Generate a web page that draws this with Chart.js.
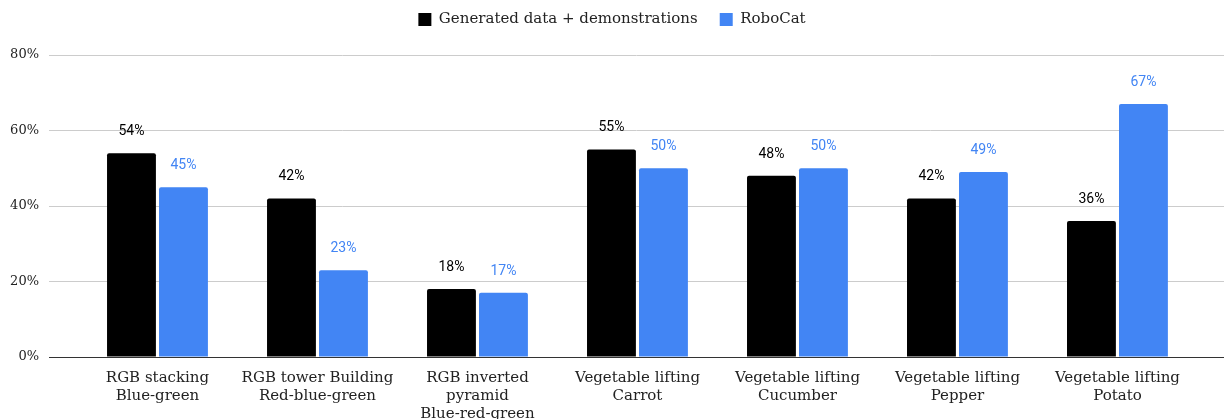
<!DOCTYPE html>
<html>
<head>
<meta charset="utf-8">
<script src="https://cdn.jsdelivr.net/npm/chart.js@4.4.0/dist/chart.umd.min.js"></script>
<style>
  html, body { margin: 0; padding: 0; background: #fff; }
  #wrap { width: 1224px; height: 419px; position: relative; }
</style>
</head>
<body>
<div id="wrap"><canvas id="c"></canvas></div>
<script>
const categories = [
  ["RGB stacking", "Blue-green"],
  ["RGB tower Building", "Red-blue-green"],
  ["RGB inverted", "pyramid", "Blue-red-green"],
  ["Vegetable lifting", "Carrot"],
  ["Vegetable lifting", "Cucumber"],
  ["Vegetable lifting", "Pepper"],
  ["Vegetable lifting", "Potato"]
];
const seriesNames = ["Generated data + demonstrations", "RoboCat"];
const generatedValues = [54, 42, 18, 55, 48, 42, 36];
const robocatValues = [45, 23, 17, 50, 50, 49, 67];
const yTicks = [0, 20, 40, 60, 80];

const SERIF = "'DejaVu Serif', Georgia, serif";
const SANS = "Roboto, Arial, sans-serif";
const BLUE = "#4285F4";

const toPoints = arr => arr.map((v, i) => ({ x: i, y: v }));

const labelPlugin = {
  id: 'valueLabels',
  afterDatasetsDraw(chart) {
    const ctx = chart.ctx;
    ctx.save();
    ctx.font = "14px " + SANS;
    ctx.textAlign = 'center';
    ctx.textBaseline = 'alphabetic';
    chart.data.datasets.forEach((ds, di) => {
      const meta = chart.getDatasetMeta(di);
      ctx.fillStyle = ds.labelColor;
      meta.data.forEach((el, i) => {
        ctx.fillText(ds.data[i].y + '%', el.x, el.y - 18);
      });
    });
    ctx.restore();
  }
};

const legendHeightPlugin = {
  id: 'legendHeight',
  beforeInit(chart) {
    const orig = chart.legend.fit;
    chart.legend.fit = function () {
      orig.call(this);
      this.height = 65;
    };
  }
};

new Chart(document.getElementById('c'), {
  type: 'bar',
  data: {
    datasets: [
      { label: seriesNames[0], data: toPoints(generatedValues), backgroundColor: '#000000', labelColor: '#000000', borderRadius: 2, borderSkipped: 'bottom' },
      { label: seriesNames[1], data: toPoints(robocatValues), backgroundColor: BLUE, labelColor: BLUE, borderRadius: 2, borderSkipped: 'bottom' }
    ]
  },
  options: {
    responsive: true,
    maintainAspectRatio: false,
    animation: false,
    categoryPercentage: 0.65,
    barPercentage: 0.94,
    layout: { padding: { top: -10, right: 0, bottom: 0, left: 0 } },
    plugins: {
      legend: {
        position: 'top',
        align: 'center',
        labels: {
          boxWidth: 13,
          boxHeight: 13,
          padding: 22,
          color: '#222',
          font: { family: SERIF, size: 15 }
        }
      },
      tooltip: { enabled: false }
    },
    scales: {
      x: {
        type: 'linear',
        min: -0.678,
        max: 6.666,
        offset: false,
        grid: { display: false, drawTicks: false },
        border: { display: true, color: '#333', width: 1 },
        afterBuildTicks(axis) { axis.ticks = categories.map((c, i) => ({ value: i })); },
        afterFit(axis) { axis.height = 62; },
        ticks: {
          autoSkip: false,
          maxRotation: 0,
          padding: 12,
          color: '#222',
          font: { family: SERIF, size: 15, lineHeight: 1.2 },
          callback: v => categories[v]
        }
      },
      y: {
        min: 0,
        max: 80,
        afterBuildTicks(axis) { axis.ticks = yTicks.map(v => ({ value: v })); },
        afterFit(axis) { axis.width = 49; },
        grid: { color: '#cccccc', drawTicks: false, lineWidth: 1 },
        border: { display: false },
        ticks: {
          padding: 10,
          color: '#222',
          font: { family: SERIF, size: 13 },
          callback: v => v + '%'
        }
      }
    }
  },
  plugins: [labelPlugin, legendHeightPlugin]
});
</script>
</body>
</html>
